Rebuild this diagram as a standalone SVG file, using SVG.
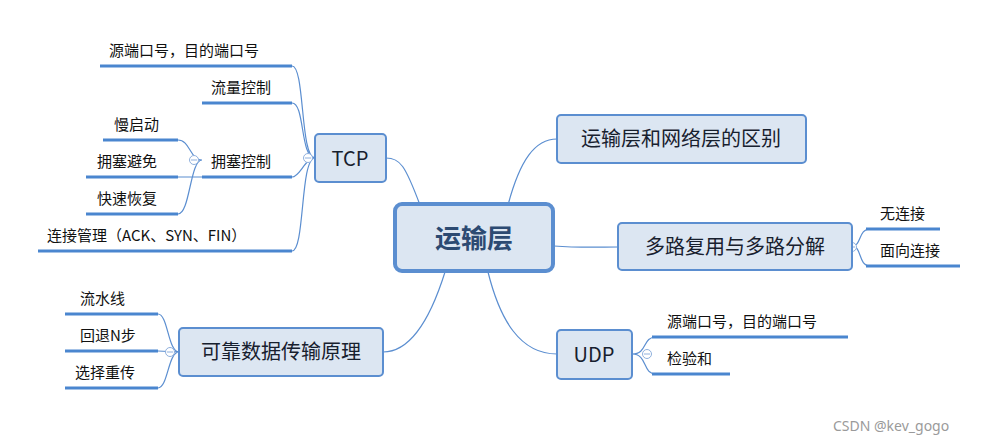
<svg xmlns="http://www.w3.org/2000/svg" width="999" height="447" viewBox="0 0 999 447">
<style>
.box{fill:#dce6f2;stroke:#5b8ed0;stroke-width:2}
.t{font-family:"Noto Sans CJK SC","Noto Sans",sans-serif;fill:#111;font-size:15px}
.tb{font-family:"Noto Sans CJK SC","Noto Sans",sans-serif;fill:#17202e;font-size:20px;text-anchor:middle}
.ul{stroke:#4a86cf;stroke-width:3}
.c{fill:none;stroke:#5b8ed0;stroke-width:1.2}
.col{fill:#fff;stroke:#8fb0dd;stroke-width:1}
</style>
<rect width="999" height="447" fill="#fff"/>
<g id="connectors">
<path class="c" d="M420,205 C405,165 400,158 386,158"/>
<path class="c" d="M508,205 C520,160 535,139 557,139"/>
<path class="c" d="M554,246 C580,248 600,247 618,247"/>
<path class="c" d="M488,272 C500,320 520,354 557,354"/>
<path class="c" d="M445,272 C430,320 410,352 383,352"/>
<path class="c" d="M315,158 C300,158 305,66 292,66 M315,158 C300,158 305,103 292,103 M315,158 C305,158 300,177 292,177 M315,158 C300,158 305,251 292,251"/>
<path class="c" d="M202,177 L178,177 M202,160 C190,160 190,140 178,140 M202,160 C190,160 190,214 178,214"/>
<path class="c" d="M179,352 C168,352 168,314 158,314 M179,352 L158,351 M179,352 C168,352 168,388 158,388"/>
<path class="c" d="M852,246 C862,246 858,229 870,229 M852,246 C862,246 858,266 870,266"/>
<path class="c" d="M632,354 C648,354 642,337 656,337 M632,354 C648,354 642,374 656,374"/>
<line class="ul" x1="100" y1="66" x2="292" y2="66"/>
<line class="ul" x1="202" y1="103" x2="292" y2="103"/>
<line class="ul" x1="202" y1="177" x2="292" y2="177"/>
<line class="ul" x1="38" y1="251" x2="292" y2="251"/>
<line class="ul" x1="103" y1="140" x2="178" y2="140"/>
<line class="ul" x1="86" y1="177" x2="178" y2="177"/>
<line class="ul" x1="86" y1="214" x2="178" y2="214"/>
<line class="ul" x1="65" y1="314" x2="158" y2="314"/>
<line class="ul" x1="65" y1="351" x2="158" y2="351"/>
<line class="ul" x1="65" y1="388" x2="158" y2="388"/>
<line class="ul" x1="866" y1="229" x2="940" y2="229"/>
<line class="ul" x1="866" y1="266" x2="960" y2="266"/>
<line class="ul" x1="652" y1="337" x2="848" y2="337"/>
<line class="ul" x1="652" y1="374" x2="730" y2="374"/>
<circle class="col" cx="308" cy="158" r="4.5"/><line x1="305" y1="158" x2="311" y2="158" stroke="#8fb0dd"/>
<circle class="col" cx="194" cy="160" r="4.5"/><line x1="191" y1="160" x2="197" y2="160" stroke="#8fb0dd"/>
<circle class="col" cx="170" cy="352" r="4.5"/><line x1="167" y1="352" x2="173" y2="352" stroke="#8fb0dd"/>
<circle class="col" cx="852" cy="247" r="4.5"/><line x1="849" y1="247" x2="855" y2="247" stroke="#8fb0dd"/>
<circle class="col" cx="647" cy="354" r="4.5"/><line x1="644" y1="354" x2="650" y2="354" stroke="#8fb0dd"/>
</g>
<g id="center"><rect x="395" y="204" width="158" height="67" rx="7" fill="#dce6f2" stroke="#5b8ed0" stroke-width="4"/><text x="474" y="248" class="tb" style="font-size:26px;font-weight:bold;fill:#2c4a72">运输层</text></g>
<g id="tcp"><rect class="box" x="315" y="134" width="71" height="48" rx="4"/><text x="350" y="166" class="tb">TCP</text></g>
<g id="diff"><rect class="box" x="557" y="115" width="249" height="48" rx="4"/><text x="681" y="146" class="tb">运输层和网络层的区别</text></g>
<g id="mux"><rect class="box" x="618" y="223" width="234" height="47" rx="4"/><text x="735" y="254" class="tb">多路复用与多路分解</text></g>
<g id="udp"><rect class="box" x="557" y="330" width="75" height="49" rx="4"/><text x="594" y="362" class="tb">UDP</text></g>
<g id="rdt"><rect class="box" x="179" y="328" width="204" height="48" rx="4"/><text x="281" y="359" class="tb">可靠数据传输原理</text></g>
<g id="tcp-kids">
<text class="t" x="109" y="56">源端口号，目的端口号</text>
<text class="t" x="211" y="93">流量控制</text>
<text class="t" x="211" y="167">拥塞控制</text>
<text class="t" x="47" y="241">连接管理（ACK、SYN、FIN）</text>
<text class="t" x="114" y="130">慢启动</text>
<text class="t" x="97" y="167">拥塞避免</text>
<text class="t" x="97" y="204">快速恢复</text>
</g>
<g id="rdt-kids">
<text class="t" x="80" y="304">流水线</text>
<text class="t" x="80" y="341">回退N步</text>
<text class="t" x="75" y="378">选择重传</text>
</g>
<g id="mux-kids">
<text class="t" x="880" y="219">无连接</text>
<text class="t" x="880" y="256">面向连接</text>
</g>
<g id="udp-kids">
<text class="t" x="667" y="327">源端口号，目的端口号</text>
<text class="t" x="667" y="364">检验和</text>
</g>
<text x="833" y="431" font-family="Noto Sans, sans-serif" font-size="14" fill="#9a9a9a">CSDN @kev_gogo</text>
</svg>
